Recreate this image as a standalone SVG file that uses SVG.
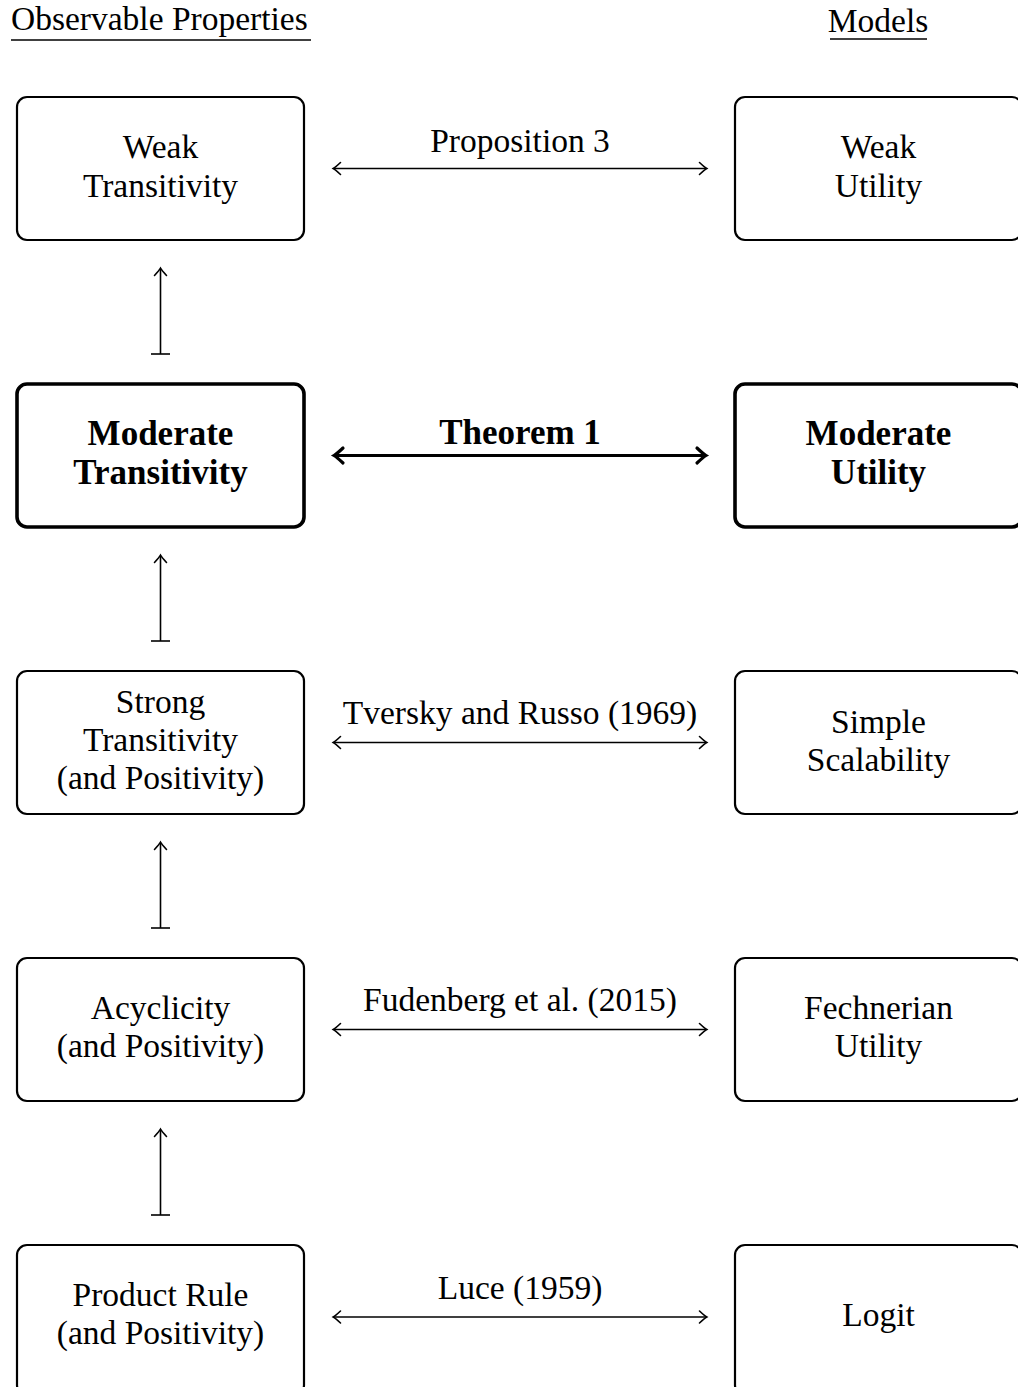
<svg xmlns="http://www.w3.org/2000/svg" width="1018" height="1387" viewBox="0 0 1018 1387">
<style>
text{font-family:"Liberation Serif","Times New Roman",serif;font-size:33.5px;fill:#000;text-anchor:middle}
.b{font-weight:bold;font-size:35px}
.box{fill:#fff;stroke:#000;stroke-width:2.2}
.boxb{fill:#fff;stroke:#000;stroke-width:3.6}
.ln{stroke:#000;stroke-width:1.6;fill:none}
.lnb{stroke:#000;stroke-width:3.2;fill:none}
.hd{text-anchor:start}
</style>
<defs>
<marker id="ah" markerUnits="userSpaceOnUse" viewBox="-10 -10 20 20" markerWidth="20" markerHeight="20" refX="0" refY="0" orient="auto-start-reverse" overflow="visible">
<path d="M-6.5,-6 Q-1.5,-1.3 0.8,0 Q-1.5,1.3 -6.5,6" fill="none" stroke="#000" stroke-width="1.6" stroke-linecap="round"/>
</marker>
<marker id="ahb" markerUnits="userSpaceOnUse" viewBox="-10 -10 20 20" markerWidth="20" markerHeight="20" refX="0" refY="0" orient="auto-start-reverse" overflow="visible">
<path d="M-8,-7.5 Q-2,-1.8 1,0 Q-2,1.8 -8,7.5" fill="none" stroke="#000" stroke-width="3.2" stroke-linecap="round"/>
</marker>
</defs>
<g id="headers">
<text class="hd" x="11" y="30">Observable Properties</text>
<line x1="11" y1="40" x2="311" y2="40" stroke="#000" stroke-width="1.5"/>
<text x="878" y="32">Models</text>
<line x1="830" y1="39" x2="927" y2="39" stroke="#000" stroke-width="1.5"/>
</g>
<g id="weak-transitivity"><rect class="box" x="17" y="97" width="287" height="143" rx="10"/><text x="160.5" y="158">Weak</text><text x="160.5" y="197">Transitivity</text></g>
<g id="weak-utility"><rect class="box" x="735" y="97" width="287" height="143" rx="10"/><text x="878.5" y="158">Weak</text><text x="878.5" y="197">Utility</text></g>
<g id="moderate-transitivity"><rect class="boxb" x="17" y="384" width="287" height="143" rx="10"/><text class="b" x="160.5" y="445">Moderate</text><text class="b" x="160.5" y="484">Transitivity</text></g>
<g id="moderate-utility"><rect class="boxb" x="735" y="384" width="287" height="143" rx="10"/><text class="b" x="878.5" y="445">Moderate</text><text class="b" x="878.5" y="484">Utility</text></g>
<g id="strong-transitivity"><rect class="box" x="17" y="671" width="287" height="143" rx="10"/><text x="160.5" y="713">Strong</text><text x="160.5" y="751">Transitivity</text><text x="160.5" y="789">(and Positivity)</text></g>
<g id="simple-scalability"><rect class="box" x="735" y="671" width="287" height="143" rx="10"/><text x="878.5" y="733">Simple</text><text x="878.5" y="771">Scalability</text></g>
<g id="acyclicity"><rect class="box" x="17" y="958" width="287" height="143" rx="10"/><text x="160.5" y="1019">Acyclicity</text><text x="160.5" y="1057">(and Positivity)</text></g>
<g id="fechnerian-utility"><rect class="box" x="735" y="958" width="287" height="143" rx="10"/><text x="878.5" y="1019">Fechnerian</text><text x="878.5" y="1057">Utility</text></g>
<g id="product-rule"><rect class="box" x="17" y="1245" width="287" height="150" rx="10"/><text x="160.5" y="1306">Product Rule</text><text x="160.5" y="1344">(and Positivity)</text></g>
<g id="logit"><rect class="box" x="735" y="1245" width="287" height="150" rx="10"/><text x="878.5" y="1326">Logit</text></g>
<g id="connectors">
<line class="ln" x1="334" y1="168.5" x2="706" y2="168.5" marker-start="url(#ah)" marker-end="url(#ah)"/>
<text x="520" y="152">Proposition 3</text>
<line class="lnb" x1="335" y1="455.5" x2="705" y2="455.5" marker-start="url(#ahb)" marker-end="url(#ahb)"/>
<text class="b" x="520" y="444">Theorem 1</text>
<line class="ln" x1="334" y1="742.5" x2="706" y2="742.5" marker-start="url(#ah)" marker-end="url(#ah)"/>
<text x="520" y="724">Tversky and Russo (1969)</text>
<line class="ln" x1="334" y1="1029.5" x2="706" y2="1029.5" marker-start="url(#ah)" marker-end="url(#ah)"/>
<text x="520" y="1011">Fudenberg et al. (2015)</text>
<line class="ln" x1="334" y1="1317" x2="706" y2="1317" marker-start="url(#ah)" marker-end="url(#ah)"/>
<text x="520" y="1299">Luce (1959)</text>
<line class="ln" x1="160.5" y1="354" x2="160.5" y2="269" marker-end="url(#ah)"/>
<line class="ln" x1="151" y1="354" x2="170" y2="354"/>
<line class="ln" x1="160.5" y1="641" x2="160.5" y2="556" marker-end="url(#ah)"/>
<line class="ln" x1="151" y1="641" x2="170" y2="641"/>
<line class="ln" x1="160.5" y1="928" x2="160.5" y2="843" marker-end="url(#ah)"/>
<line class="ln" x1="151" y1="928" x2="170" y2="928"/>
<line class="ln" x1="160.5" y1="1215" x2="160.5" y2="1130" marker-end="url(#ah)"/>
<line class="ln" x1="151" y1="1215" x2="170" y2="1215"/>
</g>
</svg>
